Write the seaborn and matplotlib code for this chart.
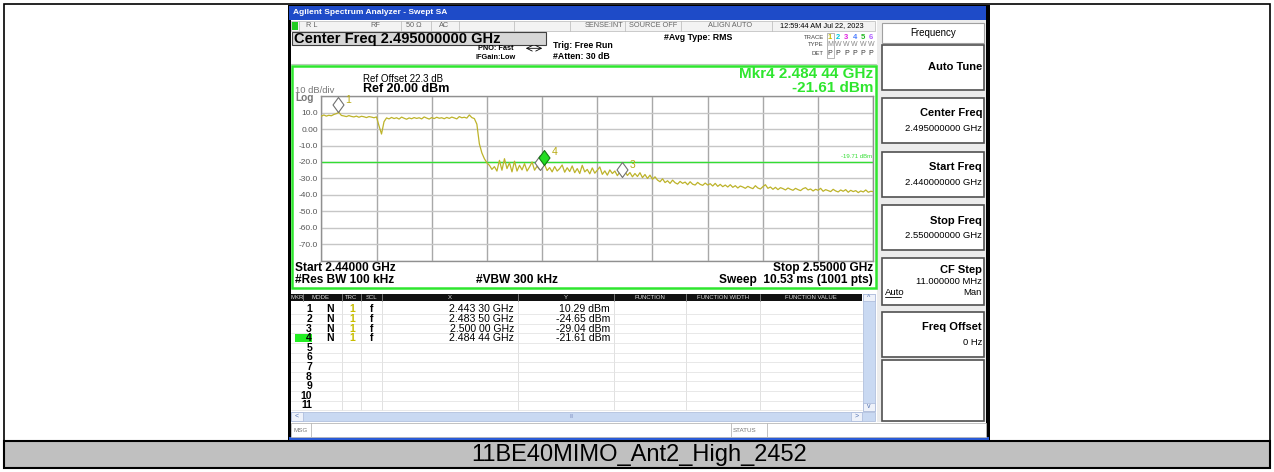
import numpy as np
import pandas as pd
import seaborn as sns
import matplotlib.pyplot as plt
from matplotlib.patches import Rectangle
from matplotlib.path import Path

# sweep settings
start_ghz = 2.44
stop_ghz = 2.55
ref_level = 20.0
display_line = -19.71

# trace 1, every 0.5 MHz (221 points)
levels_dbm = [
    7.8, 8.6, 7.9, 8.4, 8.1, 8.9, 9.4, 10.2, 8.3, 8.0,            # 2.4400
    7.6, 8.2, 7.7, 7.4, 7.9, 7.2, 7.8, 7.5, 7.0, 7.6,             # 2.4450
    7.3, 6.9, 7.4, 2.0, -3.0, 4.5, 6.8, 6.2, 7.1, 6.4,            # 2.4500
    6.9, 6.1, 7.3, 6.6, 6.0, 6.8, 6.3, 7.0, 6.5, 6.9,             # 2.4550
    6.2, 7.4, 6.7, 6.1, 7.0, 6.4, 7.2, 6.6, 6.9, 6.3,             # 2.4600
    7.1, 6.5, 7.3, 6.8, 6.2, 7.6, 6.9, 7.2, 6.7, 8.6,             # 2.4650
    7.0, 6.4, 3.0, -9.0, -14.5, -18.0, -20.5, -22.0, -24.5, -22.8,  # 2.4700
    -25.5, -19.0, -25.0, -18.0, -24.0, -20.5, -26.0, -19.5, -25.5, -22.0,  # 2.4750
    -24.8, -21.0, -25.5, -23.0, -20.0, -25.0, -22.5, -24.6, -21.5, -21.6,  # 2.4800
    -25.2, -23.4, -26.0, -22.8, -25.5, -24.0, -21.8, -26.2, -23.5, -25.8,  # 2.4850
    -22.4, -26.5, -24.0, -27.0, -22.0, -26.0, -24.5, -27.2, -23.6, -26.8,  # 2.4900
    -25.0, -23.0, -27.5, -25.4, -28.0, -24.8, -27.0, -25.5, -28.3, -26.0,  # 2.4950
    -29.0, -25.8, -28.2, -26.4, -29.0, -27.0, -28.8, -26.5, -29.5, -27.6,  # 2.5000
    -30.0, -28.0, -30.5, -29.0, -31.0, -32.0, -30.2, -32.5, -31.4, -33.0,  # 2.5050
    -31.0, -32.6, -33.4, -31.8, -33.0, -32.2, -33.8, -32.0, -33.5, -34.0,  # 2.5100
    -32.4, -33.6, -34.2, -32.8, -34.0, -33.2, -34.6, -33.0, -34.8, -33.6,  # 2.5150
    -35.0, -34.0, -35.2, -33.8, -35.4, -34.4, -35.8, -34.6, -35.2, -36.0,  # 2.5200
    -34.8, -35.6, -36.2, -34.4, -35.8, -36.4, -35.0, -33.8, -36.0, -35.2,  # 2.5250
    -36.6, -35.4, -36.8, -35.6, -36.2, -37.0, -35.8, -36.6, -37.2, -36.0,  # 2.5300
    -36.8, -37.4, -36.2, -35.6, -37.0, -36.4, -37.6, -36.6, -37.2, -36.0,  # 2.5350
    -37.8, -36.8, -37.4, -38.0, -36.6, -37.6, -38.2, -37.0, -37.8, -36.8,  # 2.5400
    -38.4, -37.2, -38.0, -37.4, -38.6, -37.6, -38.2, -37.0, -38.4, -37.8,  # 2.5450
    -38.0,                                                         # 2.5500
]

mkr_ids = ["1", "2", "3", "4"]
mkr_freq = [2.44330, 2.48350, 2.50000, 2.48444]
mkr_level = [10.29, -24.65, -29.04, -21.61]
active_mkr = 3

ytick_vals = [-80, -70, -60, -50, -40, -30, -20, -10, 0, 10, 20]
ytick_labels = ["", "-70.0", "-60.0", "-50.0", "-40.0", "-30.0", "-20.0", "-10.0", "0.00", "10.0", ""]

softkeys = [
    ("Auto Tune", "", 45, 90),
    ("Center Freq", "2.495000000 GHz", 98, 143),
    ("Start Freq", "2.440000000 GHz", 152, 197),
    ("Stop Freq", "2.550000000 GHz", 205, 250),
    ("CF Step", "11.000000 MHz", 258, 305),
    ("Freq Offset", "0 Hz", 312, 357),
]

status_cells = ["R L", "RF", "50 \u03a9", "AC", "SENSE:INT", "SOURCE OFF", "ALIGN AUTO", "12:59:44 AM Jul 22, 2023"]
status_x = [312, 375, 414, 444, 604, 653, 730, 822]
table_head = ["MKR", "MODE", "TRC", "SCL", "X", "Y", "FUNCTION", "FUNCTION WIDTH", "FUNCTION VALUE"]
table_head_x = [297, 320, 351, 371, 450, 566, 650, 723, 811]

trace_color = "#bdb32a"
green = "#2ee62e"

sns.set_style("white")
plt.rcParams["font.family"] = ["Liberation Sans", "DejaVu Sans"]

W, H = 1274, 472
fig = plt.figure(figsize=(W / 100, H / 100), dpi=100)
bg = fig.add_axes([0, 0, 1, 1], zorder=0)
bg.set_autoscale_on(False)
bg.set_xlim(0, W)
bg.set_ylim(H, 0)
bg.axis("off")


def box(x0, y0, x1, y1, fc="none", ec="none", lw=0.8, z=1):
    bg.add_patch(Rectangle((x0, y0), x1 - x0, y1 - y0, facecolor=fc,
                           edgecolor=ec, linewidth=lw, zorder=z))


def txt(x, y, s, size=6, color="black", weight="normal", ha="left", **kw):
    bg.text(x, y, s, fontsize=size, color=color, fontweight=weight,
            ha=ha, va="center", zorder=6, **kw)


def hline(y, x0, x1, color, lw=0.8, z=3):
    bg.plot([x0, x1], [y, y], color=color, lw=lw, zorder=z)


def vline(x, y0, y1, color, lw=0.8, z=3):
    bg.plot([x, x], [y0, y1], color=color, lw=lw, zorder=z)


def ghz_text(f):
    s = f"{f:.5f}"
    return f"{s[:5]} {s[5:]} GHz"


# page frame and caption
box(4, 4, 1270, 468, ec="black", lw=1.2)
box(4, 441, 1270, 468, fc="#c0c0c0", ec="black", lw=1.5)
txt(639, 455, "11BE40MIMO_Ant2_High_2452", size=17, ha="center",
    family=["Liberation Sans Narrow", "Liberation Sans"])

# screenshot frame
box(288, 5, 990, 440, fc="black")
box(289, 6, 986, 19.5, fc="#1e4bc8")
txt(293, 12.8, "Agilent Spectrum Analyzer - Swept SA", size=6, color="white", weight="bold")
box(291, 20, 986, 437, fc="white")
box(289, 437, 989, 440, fc="#2a5bd7")

# status row
box(291, 20.5, 875, 30.5, fc="#f3f3f3", ec="#b8b8b8", lw=0.5)
for x in [299, 401, 431, 459, 514, 570, 625, 681, 772]:
    vline(x, 20.5, 30.5, "#b8b8b8", lw=0.5)
box(291.5, 21.5, 298, 29.5, fc="#22cc22", z=2)
for s, x in zip(status_cells, status_x):
    txt(x, 25.8, s, size=5.3, color="black" if x > 800 else "#666666", ha="center")

# measurement header
box(292, 31.5, 546, 45, fc="#d6d6d6", ec="#404040", lw=0.8)
txt(294, 38.5, "Center Freq 2.495000000 GHz", size=10.5, weight="bold")
txt(478, 48.3, "PNO: Fast", size=5.3, weight="bold")
bg.annotate("", xy=(545, 48.3), xytext=(523, 48.3),
            arrowprops=dict(arrowstyle="<->", lw=0.6, color="black"))
txt(476, 57.7, "IFGain:Low", size=5.3, weight="bold")
txt(553, 46, "Trig: Free Run", size=6.3, weight="bold")
txt(553, 56.7, "#Atten: 30 dB", size=6.3, weight="bold")
txt(664, 37.7, "#Avg Type: RMS", size=6.3, weight="bold")
txt(824, 37.3, "TRACE", size=4.3, color="#444444", ha="right")
txt(824, 45, "TYPE", size=4.3, color="#444444", ha="right")
txt(824, 53.3, "DET", size=4.3, color="#444444", ha="right")
trace_cols = ["#c8bd00", "#00c8e0", "#e020e0", "#4a7cff", "#20b820", "#b060ff"]
for i, c in enumerate(trace_cols):
    x = 830 + 8.2 * i
    txt(x, 37.3, str(i + 1), size=5.5, color=c, weight="bold", ha="center")
    txt(x, 45, "M" if i == 0 else "W", size=5, color="#888888", ha="center")
    txt(x, 53.3, "P", size=5, color="#333333", ha="center")
box(826.5, 32.5, 833.5, 57.5, ec="#999999", lw=0.5)
hline(64, 291, 876, "#b8ccb8", lw=0.8)

# plot panel
box(291.8, 65.5, 876, 288, ec=green, lw=1.8, z=4)
txt(363, 79.5, "Ref Offset 22.3 dB", size=7)
txt(363, 89, "Ref 20.00 dBm", size=9, weight="bold")
txt(295, 90.5, "10 dB/div", size=6.8, color="#777777")
txt(295, 98.3, "Log", size=7.3, color="#777777", weight="bold")
txt(873, 74, "Mkr4 2.484 44 GHz", size=11, color=green, weight="bold", ha="right")
txt(873, 87.7, "-21.61 dBm", size=11, color=green, weight="bold", ha="right")
txt(295, 268.3, "Start 2.44000 GHz", size=8.6, weight="bold")
txt(295, 280, "#Res BW 100 kHz", size=8.6, weight="bold")
txt(476, 280, "#VBW 300 kHz", size=8.6, weight="bold")
txt(873, 268.3, "Stop 2.55000 GHz", size=8.6, weight="bold", ha="right")
txt(873, 280, "Sweep  10.53 ms (1001 pts)", size=8.6, weight="bold", ha="right")

# marker table
box(291, 293.5, 862, 300.5, fc="#111111")
for x in [303, 342, 361, 382, 518, 614, 686, 760]:
    vline(x, 293.5, 300.5, "#888888", lw=0.6, z=4)
for s, x in zip(table_head, table_head_x):
    txt(x, 297.2, s, size=4.3, color="#dddddd", ha="center")
for x in [342, 361, 382, 518, 614, 686, 760]:
    vline(x, 300.5, 410, "#dcdcdc", lw=0.6)
for k in range(11):
    hline(309.3 + 9.6 * k + 4.8, 291, 862, "#e4e4e4", lw=0.6)
for k in range(11):
    y = 309.3 + 9.6 * k
    if k == active_mkr:
        box(295, y - 4.2, 312, y + 4.2, fc="#22ee22", z=2)
    txt(312, y, str(k + 1), size=7.5, weight="bold", ha="right")
for k, (f, l) in enumerate(zip(mkr_freq, mkr_level)):
    y = 309.3 + 9.6 * k
    txt(330, y, "N", size=7.5, weight="bold", ha="center")
    txt(352, y, "1", size=7.5, weight="bold", color="#c8bd00", ha="center")
    txt(371.5, y, "f", size=7.5, weight="bold", ha="center")
    txt(514, y, ghz_text(f), size=7.6, ha="right")
    txt(610, y, f"{l:.2f} dBm", size=7.6, ha="right")
box(863, 293.5, 875, 410.5, fc="#c9d9f2", ec="#a8b8d8", lw=0.5)
box(863, 293.5, 875, 301, fc="#eef2fa", ec="#a8b8d8", lw=0.5)
box(863, 403, 875, 410.5, fc="#eef2fa", ec="#a8b8d8", lw=0.5)
txt(869, 297.5, "^", size=5, color="#5070b0", ha="center")
txt(869, 406.5, "v", size=5, color="#5070b0", ha="center")
box(291, 411.5, 875, 420.5, fc="#c9d9f2", ec="#a8b8d8", lw=0.5)
box(291, 411.5, 303, 420.5, fc="#eef2fa", ec="#a8b8d8", lw=0.5)
box(851, 411.5, 862, 420.5, fc="#eef2fa", ec="#a8b8d8", lw=0.5)
txt(297, 416, "<", size=5, color="#5070b0", ha="center")
txt(856.5, 416, ">", size=5, color="#5070b0", ha="center")
txt(572, 416, "III", size=3.5, color="#8090c0", ha="center")

# message bar
box(291, 423, 986, 437, fc="white", ec="#b8b8b8", lw=0.6)
vline(311, 423, 437, "#b8b8b8", lw=0.6)
vline(731, 423, 437, "#b8b8b8", lw=0.6)
vline(767, 423, 437, "#b8b8b8", lw=0.6)
txt(293, 430, "MSG", size=4.5, color="#777777")
txt(733, 430, "STATUS", size=4.5, color="#777777")

# softkey panel
box(877, 20, 986, 422, fc="#ececec")
box(882, 23, 984, 43, fc="white", ec="#a0a0a0", lw=0.8, z=2)
txt(933, 33, "Frequency", size=7, ha="center")
for label, value, y0, y1 in softkeys:
    box(882, y0, 984, y1, fc="white", ec="#505050", lw=1.2, z=2)
    if label == "CF Step":
        txt(982, y0 + 12, label, size=8, weight="bold", ha="right")
        txt(982, y0 + 23, value, size=6.8, ha="right")
    elif value:
        txt(982, y0 + 15.5, label, size=8, weight="bold", ha="right")
        txt(982, y0 + 30.5, value, size=6.8, ha="right")
    else:
        txt(982, (y0 + y1) / 2, label, size=8, weight="bold", ha="right")
txt(885, 292.5, "Auto", size=6.8, ha="left")
hline(296.8, 885, 901, "black", lw=0.6, z=7)
txt(982, 292.5, "Man", size=6.8, ha="right")
box(882, 360, 984, 421, fc="white", ec="#505050", lw=1.2, z=2)

# spectrum graticule
ax = fig.add_axes([321.3 / W, (H - 260.7) / H, 552 / W, 164.5 / H], zorder=2)
freq = np.linspace(start_ghz, stop_ghz, len(levels_dbm))
df = pd.DataFrame({"freq": freq, "level": levels_dbm})
sns.lineplot(data=df, x="freq", y="level", ax=ax, color=trace_color, lw=0.9,
             estimator=None, sort=False, zorder=3)
ax.set_xlim(start_ghz, stop_ghz)
ax.set_ylim(ref_level - 100, ref_level)
ax.set_xticks(np.linspace(start_ghz, stop_ghz, 11))
ax.set_xticklabels([])
ax.set_yticks(ytick_vals)
ax.set_yticklabels(ytick_labels)
ax.tick_params(axis="both", length=0, pad=2.5)
ax.tick_params(axis="y", labelsize=6, labelcolor="#555555")
ax.grid(axis="x", color="#a8a8a8", lw=1)
ax.grid(axis="y", color="#c6c6c6", lw=1)
ax.set_axisbelow(True)
for sp in ax.spines.values():
    sp.set_color("#909090")
    sp.set_linewidth(1)
ax.set_xlabel("")
ax.set_ylabel("")
ax.axhline(display_line, color="#33dd33", lw=1, zorder=2)
ax.text(0.997, display_line + 1.8, f"{display_line:.2f} dBm", transform=ax.get_yaxis_transform(),
        ha="right", va="bottom", fontsize=4.3, color="#33dd33")

diamond = Path([(0, 0), (0.73, 1), (0, 2), (-0.73, 1), (0, 0)],
               [Path.MOVETO, Path.LINETO, Path.LINETO, Path.LINETO, Path.CLOSEPOLY])
for i, (m, f, l) in enumerate(zip(mkr_ids, mkr_freq, mkr_level)):
    active = i == active_mkr
    ax.plot([f], [l], marker=diamond, ms=21.6, ls="none", clip_on=False, zorder=5,
            mfc="#22dd22" if active else "white", mec="#137a13" if active else "#707070", mew=0.8)
    if m != "2":
        ax.annotate(m, (f, l), xytext=(5.5, 8.8), textcoords="offset points",
                    fontsize=7.5, color="#b8aa10", ha="left", va="center", zorder=6)

fig.savefig("out.png", dpi=100)
